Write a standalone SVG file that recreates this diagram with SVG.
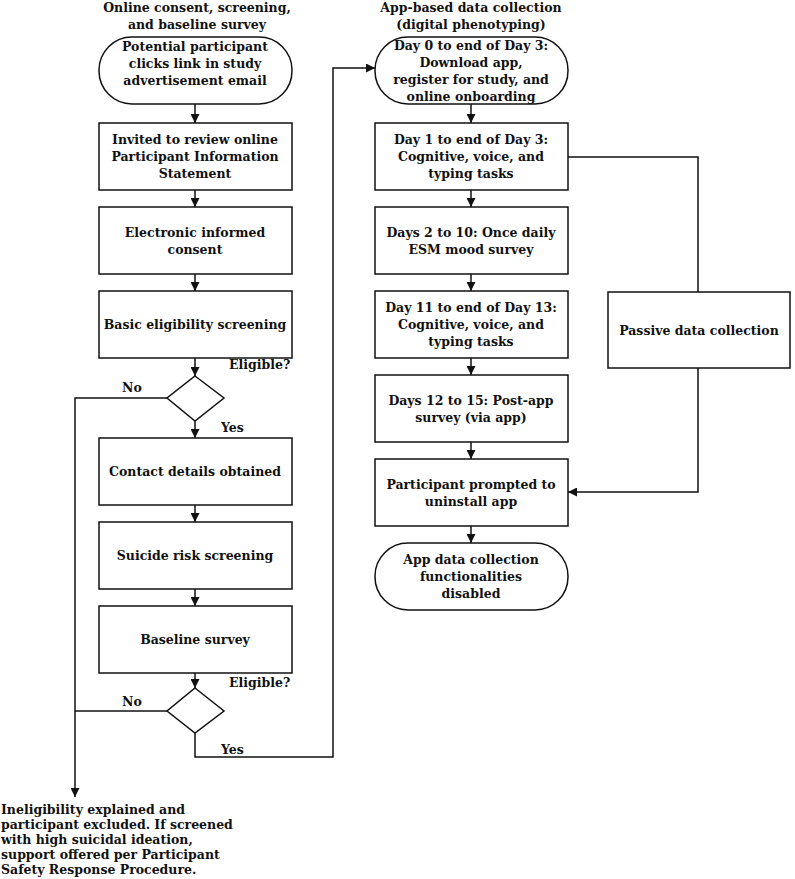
<svg xmlns="http://www.w3.org/2000/svg" width="795" height="879" viewBox="0 0 795 879">
<style>
text{font-family:"DejaVu Serif","Liberation Serif",serif;font-weight:bold;font-size:12.5px;fill:#111}
.c{text-anchor:middle}
.b{fill:#fff;stroke:#111;stroke-width:1.5}
.l{fill:none;stroke:#111;stroke-width:1.5}
.m{marker-end:url(#a)}
</style>
<defs><marker id="a" viewBox="0 0 10 10" refX="10" refY="5" markerWidth="9" markerHeight="9" markerUnits="userSpaceOnUse" orient="auto"><path d="M0,0L10,5L0,10z" fill="#111"/></marker></defs>
<rect width="795" height="879" fill="#fff"/>
<text class="c" x="197" y="12">Online consent, screening,</text>
<text class="c" x="197" y="29">and baseline survey</text>
<text class="c" x="471" y="12">App-based data collection</text>
<text class="c" x="471" y="29">(digital phenotyping)</text>
<g id="connectors">
<path class="l m" d="M195,104V123"/><path class="l m" d="M195,190V207"/><path class="l m" d="M195,274V291"/><path class="l m" d="M195,358V376"/><path class="l m" d="M195,421V438"/><path class="l m" d="M195,505V522"/><path class="l m" d="M195,589V606"/><path class="l m" d="M195,673V688"/>
<path class="l m" d="M471,104V123"/><path class="l m" d="M471,190V207"/><path class="l m" d="M471,274V291"/><path class="l m" d="M471,358V375"/><path class="l m" d="M471,442V459"/><path class="l m" d="M471,526V543"/>
<path class="l m" d="M167,398H75V797"/>
<path class="l" d="M167,711H75"/>
<path class="l m" d="M195,733V757H333V68H375"/>
<path class="l" d="M568,157H698V292"/>
<path class="l m" d="M698,368V492H568"/>
<text x="122" y="392">No</text><text x="229" y="369">Eligible?</text><text x="221" y="432">Yes</text>
<text x="122" y="706">No</text><text x="229" y="687">Eligible?</text><text x="221" y="754">Yes</text>
</g>
<g id="n1"><rect class="b" x="99" y="37" width="193" height="67" rx="33"/><text class="c" x="195" y="51">Potential participant</text><text class="c" x="195" y="68">clicks link in study</text><text class="c" x="195" y="85">advertisement email</text></g>
<g id="n2"><rect class="b" x="99" y="123" width="193" height="67"/><text class="c" x="195" y="144">Invited to review online</text><text class="c" x="195" y="161">Participant Information</text><text class="c" x="195" y="178">Statement</text></g>
<g id="n3"><rect class="b" x="99" y="207" width="193" height="67"/><text class="c" x="195" y="237">Electronic informed</text><text class="c" x="195" y="254">consent</text></g>
<g id="n4"><rect class="b" x="99" y="291" width="193" height="67"/><text class="c" x="195" y="329">Basic eligibility screening</text></g>
<g id="d1"><path class="b" d="M195,376L224,398L195,421L167,398Z"/></g>
<g id="n5"><rect class="b" x="99" y="438" width="193" height="67"/><text class="c" x="195" y="476">Contact details obtained</text></g>
<g id="n6"><rect class="b" x="99" y="522" width="193" height="67"/><text class="c" x="195" y="560">Suicide risk screening</text></g>
<g id="n7"><rect class="b" x="99" y="606" width="193" height="67"/><text class="c" x="195" y="644">Baseline survey</text></g>
<g id="d2"><path class="b" d="M195,688L224,711L195,733L167,711Z"/></g>
<g id="n8"><text x="1" y="814">Ineligibility explained and</text><text x="1" y="829">participant excluded. If screened</text><text x="1" y="844">with high suicidal ideation,</text><text x="1" y="859">support offered per Participant</text><text x="1" y="874">Safety Response Procedure.</text></g>
<g id="r1"><rect class="b" x="375" y="37" width="193" height="67" rx="33"/><text class="c" x="471" y="50">Day 0 to end of Day 3:</text><text class="c" x="471" y="67">Download app,</text><text class="c" x="471" y="84">register for study, and</text><text class="c" x="471" y="101">online onboarding</text></g>
<g id="r2"><rect class="b" x="375" y="123" width="193" height="67"/><text class="c" x="471" y="144">Day 1 to end of Day 3:</text><text class="c" x="471" y="161">Cognitive, voice, and</text><text class="c" x="471" y="178">typing tasks</text></g>
<g id="r3"><rect class="b" x="375" y="207" width="193" height="67"/><text class="c" x="471" y="237">Days 2 to 10: Once daily</text><text class="c" x="471" y="254">ESM mood survey</text></g>
<g id="r4"><rect class="b" x="375" y="291" width="193" height="67"/><text class="c" x="471" y="312">Day 11 to end of Day 13:</text><text class="c" x="471" y="329">Cognitive, voice, and</text><text class="c" x="471" y="346">typing tasks</text></g>
<g id="r5"><rect class="b" x="375" y="375" width="193" height="67"/><text class="c" x="471" y="405">Days 12 to 15: Post-app</text><text class="c" x="471" y="422">survey (via app)</text></g>
<g id="r6"><rect class="b" x="375" y="459" width="193" height="67"/><text class="c" x="471" y="489">Participant prompted to</text><text class="c" x="471" y="506">uninstall app</text></g>
<g id="r7"><rect class="b" x="375" y="543" width="193" height="67" rx="33"/><text class="c" x="471" y="564">App data collection</text><text class="c" x="471" y="581">functionalities</text><text class="c" x="471" y="598">disabled</text></g>
<g id="p"><rect class="b" x="608" y="292" width="182" height="76"/><text class="c" x="699" y="335">Passive data collection</text></g>
</svg>
